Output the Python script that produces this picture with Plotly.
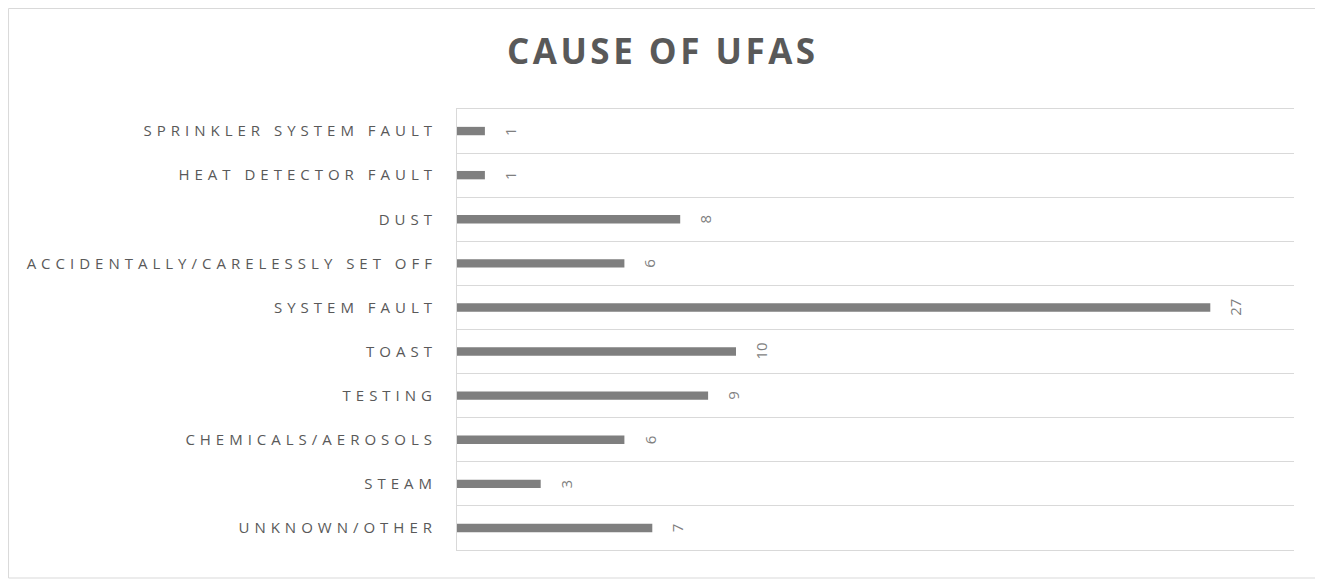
import plotly.graph_objects as go

# categories listed bottom to top, as plotly draws them
causes = ['UNKNOWN/OTHER', 'STEAM', 'CHEMICALS/AEROSOLS', 'TESTING', 'TOAST',
          'SYSTEM FAULT', 'ACCIDENTALLY/CARELESSLY SET OFF', 'DUST',
          'HEAT DETECTOR FAULT', 'SPRINKLER SYSTEM FAULT']
counts = [7, 3, 6, 9, 10, 27, 6, 8, 1, 1]
title = 'CAUSE OF UFAS'

grey = '#7F7F7F'
text_grey = '#595959'
line_grey = '#D9D9D9'


def spaced(s, gap):
    # the original labels use wide letter spacing; plotly has no letter-spacing,
    # so put a narrow unicode space between the letters
    return gap.join(s)


fig = go.Figure(go.Bar(
    x=counts, y=causes, orientation='h',
    marker=dict(color=grey, line=dict(width=0)),
    hoverinfo='x+y',
))

for c, v in zip(causes, counts):
    fig.add_annotation(x=v, y=c, text=str(v), textangle=-90, xshift=25,
                       showarrow=False,
                       font=dict(family='Open Sans', size=15, color=grey))

fig.update_layout(
    width=1323, height=580,
    margin=dict(l=449, r=37, t=101, b=38),
    paper_bgcolor='white', plot_bgcolor='white',
    bargap=0.81,
    showlegend=False,
    title=dict(text='<b>' + spaced(title, '\u200a') + '</b>', x=0.4936,
               xanchor='center', y=0.924, yanchor='middle',
               font=dict(family='Open Sans', size=35, color=text_grey)),
    xaxis=dict(range=[0, 30], showgrid=False, showticklabels=False,
               zeroline=False, showline=True, mirror=True,
               linecolor=line_grey, linewidth=1, ticks=''),
    yaxis=dict(tickson='boundaries', showgrid=True, gridcolor=line_grey,
               gridwidth=1, showline=True, linecolor=line_grey, linewidth=1,
               ticks='', ticklen=0, ticklabelstandoff=21,
               tickmode='array', tickvals=causes,
               ticktext=[spaced(c, '\u2004') for c in causes],
               tickfont=dict(family='Open Sans', size=15, color=text_grey)),
    shapes=[dict(type='rect', xref='paper', yref='paper',
                 x0=-0.5358, x1=1.0323, y0=-0.0635, y1=1.2279,
                 line=dict(color=line_grey, width=1))],
)

fig.write_html('out.html')
